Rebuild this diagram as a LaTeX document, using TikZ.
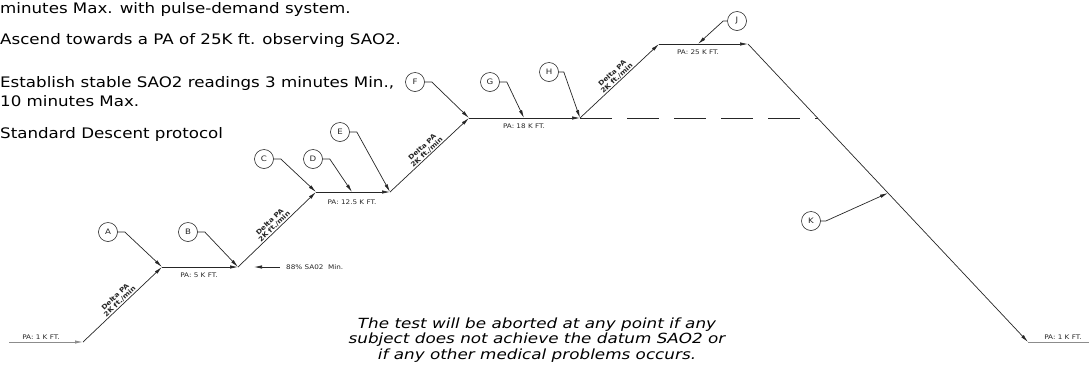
\documentclass[tikz,border=0pt]{standalone}
\usepackage{fontspec}
\setmainfont{DejaVu Sans}
\newfontfamily\notefont{DejaVu Sans}[FakeStretch=1.15]
\newfontfamily\warnfont{DejaVu Sans}[FakeStretch=1.2]
\newfontfamily\cadfont{DejaVu Sans}[FakeStretch=1.15]
\usetikzlibrary{arrows.meta,calc}
\tikzset{
  ln/.style={line width=0.7pt, draw=black!85},
  gln/.style={line width=0.9pt, draw=black!45},
  arr/.style={ln, -{Latex[length=8pt,width=3.4pt]}},
  callout/.style={circle, draw=black!85, line width=0.6pt, minimum size=19pt, inner sep=0pt, font=\cadfont\fontsize{7.5}{8}\selectfont, text=black!85},
  pa/.style={font=\cadfont\fontsize{6.3}{7}\selectfont, inner sep=0pt, text=black!85},
  ramp/.style={font=\cadfont\fontsize{6.4}{6.6}\selectfont\bfseries, align=center, inner sep=0.8pt, sloped, above, text=black!85},
  note/.style={font=\notefont\fontsize{14.5}{17}\selectfont, anchor=west, inner sep=0pt},
  warn/.style={font=\warnfont\itshape\fontsize{14}{15.5}\selectfont, align=center, inner sep=0pt}
}
\begin{document}
\begin{tikzpicture}[x=1pt,y=-1pt]
\useasboundingbox (0,0) rectangle (1090,373);
% profile points
\coordinate (p0) at (9,342);
\coordinate (p1) at (83,342);
\coordinate (p2) at (162,267);
\coordinate (p3) at (238,267);
\coordinate (p4) at (316,192);
\coordinate (p5) at (390,192);
\coordinate (p6) at (469,118);
\coordinate (p7) at (580,118);
\coordinate (p8) at (659,44);
\coordinate (p9) at (748,44);
\coordinate (p10) at (1028,342);
\coordinate (p11) at (1089,342);
\coordinate (dD) at (352,192);
\coordinate (dG) at (524,118);
\coordinate (dJ) at (698,44);
\coordinate (dK) at ($(p9)!0.5!(p10)$);
\coordinate (dq) at (818,118);
\coordinate (m1) at (280,267);
\coordinate (m2) at (254,267);

% top notes
\node[note] (n1) at (0,9) {minutes Max. with pulse-demand system.};
\node[note] (n2) at (0,40) {Ascend towards a PA of 25K ft. observing SAO2.};
\node[note] (n3) at (0,83) {Establish stable SAO2 readings 3 minutes Min.,};
\node[note] (n4) at (0,101) {10 minutes Max.};
\node[note] (n5) at (0,134) {Standard Descent protocol};

% profile
\draw[gln, -{Latex[length=8pt,width=3.4pt]}] (p0) -- (p1);
\draw[arr] (p1) -- node[ramp]{Delta PA\\2K ft./min} (p2);
\draw[arr] (p2) -- (p3);
\draw[arr] (p3) -- node[ramp]{Delta PA\\2K ft./min} (p4);
\draw[arr] (p4) -- (p5);
\draw[arr] (p5) -- node[ramp]{Delta PA\\2K ft./min} (p6);
\draw[arr] (p6) -- (p7);
\draw[arr] (p7) -- node[ramp]{Delta PA\\2K ft./min} (p8);
\draw[arr] (p8) -- (p9);
\draw[arr] (p9) -- (p10);
\draw[gln] (p10) -- (p11);
\draw[ln, dash pattern=on 32pt off 15pt] (p7) -- (dq);

% level labels
\node[pa] (l1) at (41,337) {PA: 1 K FT.};
\node[pa] (l2) at (199,275) {PA: 5 K FT.};
\node[pa] (l3) at (352,202) {PA: 12.5 K FT.};
\node[pa] (l4) at (524,126) {PA: 18 K FT.};
\node[pa] (l5) at (698,52) {PA: 25 K FT.};
\node[pa] (l6) at (1063,337) {PA: 1 K FT.};

% 88% marker
\draw[arr] (m1) -- (m2);
\node[pa, anchor=west] (l7) at (286,267) {88\% SA02\ \ Min.};

% callouts
\node[callout] (A) at (108,232) {A};
\node[callout] (B) at (188,232) {B};
\node[callout] (C) at (264,159) {C};
\node[callout] (D) at (313,159) {D};
\node[callout] (E) at (340,132) {E};
\node[callout] (F) at (415,82) {F};
\node[callout] (G) at (490,82) {G};
\node[callout] (H) at (549,72) {H};
\node[callout] (J) at (737,21) {J};
\node[callout] (K) at (811,221) {K};

\draw[arr] (A.east) -- ++(7,0) -- (p2);
\draw[arr] (B.east) -- ++(7,0) -- (p3);
\draw[arr] (C.east) -- ++(7,0) -- (p4);
\draw[arr] (D.east) -- ++(7,0) -- (dD);
\draw[arr] (E.east) -- ++(7,0) -- (p5);
\draw[arr] (F.east) -- ++(7,0) -- (p6);
\draw[arr] (G.east) -- ++(7,0) -- (dG);
\draw[arr] (H.east) -- ++(5,0) -- (p7);
\draw[arr] (J.west) -- ++(-4,0) -- (dJ);
\draw[arr] (K.east) -- ++(5,0) -- (dK);

% warning
\node[warn] (w) at (537,340) {The test will be aborted at any point if any\\subject does not achieve the datum SAO2 or\\if any other medical problems occurs.};
\end{tikzpicture}
\end{document}
